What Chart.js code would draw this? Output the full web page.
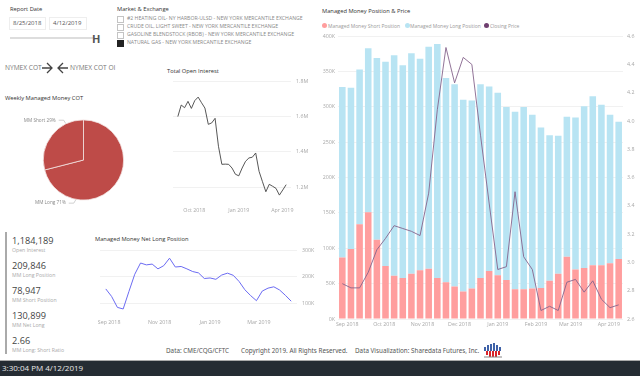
<!DOCTYPE html>
<html>
<head>
<meta charset="utf-8">
<script src="https://cdn.jsdelivr.net/npm/chart.js@4"></script>
<style>
html,body{margin:0;padding:0;background:#fff;width:640px;height:376px;overflow:hidden;font-family:"Open Sans",sans-serif}
.t{position:absolute;white-space:nowrap;transform:translateY(-50%);line-height:1}
.title{font-size:5.75px;color:#333}
.num{font-size:9.2px;color:#444;left:12px}
.sub{font-size:5.2px;color:#aaa;left:12px}
.mkt{font-size:5.15px;color:#888;left:127px}
.foot{font-size:6.3px;color:#555;font-family:"Noto Sans",sans-serif}
.chk{position:absolute;left:117px;width:5px;height:5px;border:1px solid #c4c4c4}
.box{position:absolute;top:17px;height:13px;border:1px solid #eee;box-sizing:border-box;font-size:6px;color:#555;line-height:11px;padding-left:3px}
.leg{font-size:4.95px;color:#999}
.dot{position:absolute;top:23.2px;width:5px;height:5px;border-radius:50%}
canvas{position:absolute;display:block}
</style>
</head>
<body>
<div class="t title" style="left:10px;top:10px">Report Date</div>
<div class="box" style="left:9px;width:37px">8/25/2018</div>
<div class="box" style="left:49px;width:38px">4/12/2019</div>
<div style="position:absolute;left:10px;top:37px;width:83px;height:1.5px;background:#ddd"></div>
<div class="t" style="left:92px;top:38px;font-size:11px;font-weight:700;color:#555">H</div>

<div class="t title" style="left:117px;top:10px">Market &amp; Exchange</div>
<div class="chk" style="top:16px"></div>
<div class="chk" style="top:24px"></div>
<div class="chk" style="top:32px"></div>
<div class="chk" style="top:40px;background:#222;border-color:#222"></div>
<div class="t mkt" style="top:19px">#2 HEATING OIL- NY HARBOR-ULSD - NEW YORK MERCANTILE EXCHANGE</div>
<div class="t mkt" style="top:27px">CRUDE OIL, LIGHT SWEET - NEW YORK MERCANTILE EXCHANGE</div>
<div class="t mkt" style="top:35px">GASOLINE BLENDSTOCK (RBOB) - NEW YORK MERCANTILE EXCHANGE</div>
<div class="t mkt" style="top:43px">NATURAL GAS - NEW YORK MERCANTILE EXCHANGE</div>

<div class="t" style="left:5px;top:68px;font-size:6.6px;color:#777">NYMEX COT</div>
<div class="t" style="left:70px;top:68px;font-size:6.6px;color:#777">NYMEX COT OI</div>
<svg style="position:absolute;left:40px;top:60px" width="30" height="16" fill="none" stroke="#444" stroke-width="1.3">
  <path d="M2 8H12M7 3L12 8L7 13"/><path d="M28 8H18M23 3L18 8L23 13"/>
</svg>

<div class="t title" style="left:5px;top:99px">Weekly Managed Money COT</div>
<div class="t title" style="left:167px;top:72px">Total Open Interest</div>
<div class="t title" style="left:95px;top:240px">Managed Money Net Long Position</div>
<div class="t title" style="left:322px;top:12px">Managed Money Position &amp; Price</div>

<div class="dot" style="left:322px;background:#FF9E9E"></div><div class="t leg" style="left:328px;top:25.7px">Managed Money Short Position</div>
<div class="dot" style="left:404.5px;background:#B8E4F3"></div><div class="t leg" style="left:410px;top:25.7px">Managed Money Long Position</div>
<div class="dot" style="left:484px;background:#6f3f70"></div><div class="t leg" style="left:490px;top:25.7px">Closing Price</div>

<div style="position:absolute;left:5px;top:232px;width:2px;height:122px;background:#aaa"></div>
<div class="t num" style="top:241px">1,184,189</div><div class="t sub" style="top:251px">Open Interest</div>
<div class="t num" style="top:266px">209,846</div><div class="t sub" style="top:276px">MM Long Position</div>
<div class="t num" style="top:291px">78,947</div><div class="t sub" style="top:301px">MM Short Position</div>
<div class="t num" style="top:316px">130,899</div><div class="t sub" style="top:326px">MM Net Long</div>
<div class="t num" style="top:341px">2.66</div><div class="t sub" style="top:351px">MM Long: Short Ratio</div>

<div class="t foot" style="left:166px;top:351px">Data: CME/CQG/CFTC</div>
<div class="t foot" style="left:241px;top:351px">Copyright 2019. All Rights Reserved.</div>
<div class="t foot" style="left:355px;top:351px">Data Visualization: Sharedata Futures, Inc.</div>
<svg style="position:absolute;left:483px;top:343px" width="20" height="15">
  <g fill="#3f62a8"><rect x="1" y="4" width="2" height="4"/><rect x="4" y="2" width="2" height="6"/><rect x="7" y="1" width="2" height="7"/><rect x="10" y="0" width="2" height="8"/><rect x="13" y="2" width="2" height="6"/><rect x="16" y="4" width="2" height="4"/></g>
  <g fill="#d8232a"><rect x="3" y="8" width="2" height="4"/><rect x="6" y="8" width="2" height="6"/><rect x="9" y="8" width="2" height="6"/><rect x="12" y="8" width="2" height="6"/><rect x="15" y="8" width="2" height="4"/></g>
  <rect x="1" y="13.5" width="18" height="1" fill="#888"/>
</svg>

<div style="position:absolute;left:0;top:360px;width:640px;height:16px;background:#252c33;border-top:1px solid #aaa;box-sizing:border-box"></div>
<div class="t" style="left:2px;top:368px;font-size:8px;color:#e8e8e8">3:30:04 PM 4/12/2019</div>

<canvas id="pieChart" width="167" height="122" style="left:0;top:99px"></canvas>
<canvas id="oiChart" width="147" height="143" style="left:173px;top:73px"></canvas>
<canvas id="netChart" width="235" height="86" style="left:85px;top:242px"></canvas>
<canvas id="posChart" width="320" height="301" style="left:320px;top:29px"></canvas>

<script>
const reportDates = ['2018-08-28','2018-09-04','2018-09-11','2018-09-18','2018-09-25','2018-10-02','2018-10-09','2018-10-16','2018-10-23','2018-10-30','2018-11-06','2018-11-13','2018-11-20','2018-11-27','2018-12-04','2018-12-11','2018-12-18','2018-12-25','2019-01-01','2019-01-08','2019-01-15','2019-01-22','2019-01-29','2019-02-05','2019-02-12','2019-02-19','2019-02-26','2019-03-05','2019-03-12','2019-03-19','2019-03-26','2019-04-02','2019-04-09'];
// thousands of contracts
const shortPosition = [87,99,134,151,112,75,61,58,64,69,71,58,52,46,39,43,58,68,62,55,42,42,43,44,54,64,88,70,72,76,76,79,85];
const longPosition = [241,228,219,232,257,289,312,301,312,299,314,331,289,286,271,266,274,261,258,245,251,258,246,227,206,195,198,215,229,239,227,210,194];
const closingPrice = [2.85,2.82,2.82,2.93,3.09,3.17,3.26,3.24,3.22,3.19,3.49,4.08,4.52,4.27,4.45,4.40,3.90,3.42,2.95,2.97,3.50,3.04,2.95,2.66,2.69,2.66,2.86,2.88,2.79,2.87,2.74,2.68,2.70];
// millions
const openInterest = [1.600,1.665,1.650,1.686,1.646,1.690,1.710,1.678,1.648,1.556,1.564,1.590,1.432,1.330,1.331,1.330,1.309,1.274,1.265,1.309,1.347,1.366,1.370,1.394,1.290,1.232,1.175,1.217,1.206,1.194,1.156,1.185,1.215];
const netLong = [155,127,86,80,146,210,252,245,248,230,242,270,237,239,230,220,215,194,196,191,207,214,206,183,152,130,111,147,158,163,151,131,109];
const pieLabels = ['MM Long','MM Short'];
const pieValues = [71,29];

const posMonths = ['2018-09-01','2018-10-01','2018-11-01','2018-12-01','2019-01-01','2019-02-01','2019-03-01','2019-04-01'];
const oiMonths = ['2018-10-01','2019-01-01','2019-04-01'];
const netMonths = ['2018-09-01','2018-11-01','2019-01-01','2019-03-01'];
const oiTicks = [1.2,1.4,1.6,1.8];
const netTicks = [100,200,300];

const day = 86400000;
const tickFont = {family:'"Open Sans"', size:5.3};
const tickColor = '#a8a8a8';
const gridColor = '#f1f1f1';

function pts(values){
    return values.map((v,i) => ({x:Date.parse(reportDates[i]), y:v}));
}

function monthLabel(ms){
    return new Date(ms).toLocaleDateString('en-US',{month:'short',year:'numeric',timeZone:'UTC'});
}

function dateAxis(months, padDays){
    return {
        type:'linear',
        offset:false, // bar charts turn this on by default and it squeezes the plot
        min:Date.parse(reportDates[0]) - padDays*day,
        max:Date.parse(reportDates[reportDates.length-1]) + padDays*day,
        grid:{display:false, drawTicks:false},
        border:{display:false},
        afterBuildTicks(scale){ scale.ticks = months.map(m => ({value:Date.parse(m)})); },
        afterFit(scale){ scale.height = 11; },
        ticks:{font:tickFont, color:tickColor, padding:2, autoSkip:false, maxRotation:0, callback:monthLabel}
    };
}

function valueAxis(position, width, extra){
    return Object.assign({
        position:position,
        grid:{color:gridColor, drawTicks:false},
        border:{display:false},
        afterFit(scale){ scale.width = width; }
    }, extra);
}

const baseOptions = {responsive:false, animation:false, plugins:{legend:{display:false}, tooltip:{enabled:false}}};

// leader lines for the pie, angles are clockwise from the top
const pieLeaders = {
    id:'pieLeaders',
    afterDraw(chart){
        const arc = chart.getDatasetMeta(0).data[0];
        const ctx = chart.ctx;
        const leaders = [
            {text:pieLabels[1]+' '+pieValues[1]+'%', angle:334, dy:-3.3},
            {text:pieLabels[0]+' '+pieValues[0]+'%', angle:191, dy:3.3}
        ];
        ctx.save();
        ctx.font = '4.7px "Open Sans"';
        ctx.textAlign = 'right';
        ctx.textBaseline = 'middle';
        leaders.forEach(l => {
            const a = l.angle*Math.PI/180;
            const ex = arc.x + Math.sin(a)*(arc.outerRadius+0.5);
            const ey = arc.y - Math.cos(a)*(arc.outerRadius+0.5);
            ctx.strokeStyle = '#bbb';
            ctx.lineWidth = 0.7;
            ctx.beginPath();
            ctx.moveTo(ex,ey);
            ctx.lineTo(ex-2,ey+l.dy);
            ctx.lineTo(ex-7,ey+l.dy);
            ctx.stroke();
            ctx.fillStyle = '#888';
            ctx.fillText(l.text, ex-10, ey+l.dy);
        });
        ctx.restore();
    }
};

new Chart(document.getElementById('pieChart'), {
    type:'pie',
    data:{labels:pieLabels, datasets:[{data:pieValues, backgroundColor:'#BE4B48', borderColor:'#f3e3e2', borderWidth:0.8}]},
    options:Object.assign({}, baseOptions, {layout:{padding:{top:20.5,bottom:20.5}}}),
    plugins:[pieLeaders]
});

new Chart(document.getElementById('oiChart'), {
    type:'line',
    data:{datasets:[{data:pts(openInterest), borderColor:'#444', borderWidth:0.9, pointRadius:0, tension:0}]},
    options:Object.assign({}, baseOptions, {scales:{
        x:dateAxis(oiMonths, 10),
        y:valueAxis('right', 29, {
            min:1.1, max:1.8,
            afterBuildTicks(scale){ scale.ticks = oiTicks.map(v => ({value:v})); },
            ticks:{font:tickFont, color:tickColor, padding:5, callback:v => v.toFixed(1)+'M'}
        })
    }})
});

new Chart(document.getElementById('netChart'), {
    type:'line',
    data:{datasets:[{data:pts(netLong), borderColor:'#6b6bf2', borderWidth:1, pointRadius:0, tension:0}]},
    options:Object.assign({}, baseOptions, {layout:{padding:{left:15}}, scales:{
        x:dateAxis(netMonths, 7),
        y:valueAxis('right', 23, {
            min:50, max:300,
            afterBuildTicks(scale){ scale.ticks = netTicks.map(v => ({value:v})); },
            ticks:{font:tickFont, color:tickColor, padding:5, callback:v => v+'K'}
        })
    }})
});

new Chart(document.getElementById('posChart'), {
    type:'bar',
    data:{datasets:[
        {label:'Managed Money Short Position', data:pts(shortPosition), backgroundColor:'#FF9E9E', stack:'mm', barPercentage:0.76, categoryPercentage:1, order:1},
        {label:'Managed Money Long Position', data:pts(longPosition), backgroundColor:'#B8E4F3', stack:'mm', barPercentage:0.76, categoryPercentage:1, order:1},
        {label:'Closing Price', type:'line', data:pts(closingPrice), yAxisID:'y1', borderColor:'#86648c', borderWidth:0.9, pointRadius:0, tension:0, order:0}
    ]},
    options:{
        responsive:false,
        animation:false,
        plugins:{tooltip:{enabled:false}, legend:{display:false}},
        scales:{
            x:dateAxis(posMonths, 3.5),
            y:valueAxis('left', 18, {
                stacked:true, min:0, max:400,
                ticks:{stepSize:50, font:tickFont, color:tickColor, padding:3, callback:v => v+'K'}
            }),
            y1:valueAxis('right', 17, {
                min:2.6, max:4.6,
                grid:{display:false, drawTicks:false},
                ticks:{stepSize:0.2, font:tickFont, color:tickColor, padding:4, callback:v => v.toFixed(1)}
            })
        }
    }
});
</script>
</body>
</html>
